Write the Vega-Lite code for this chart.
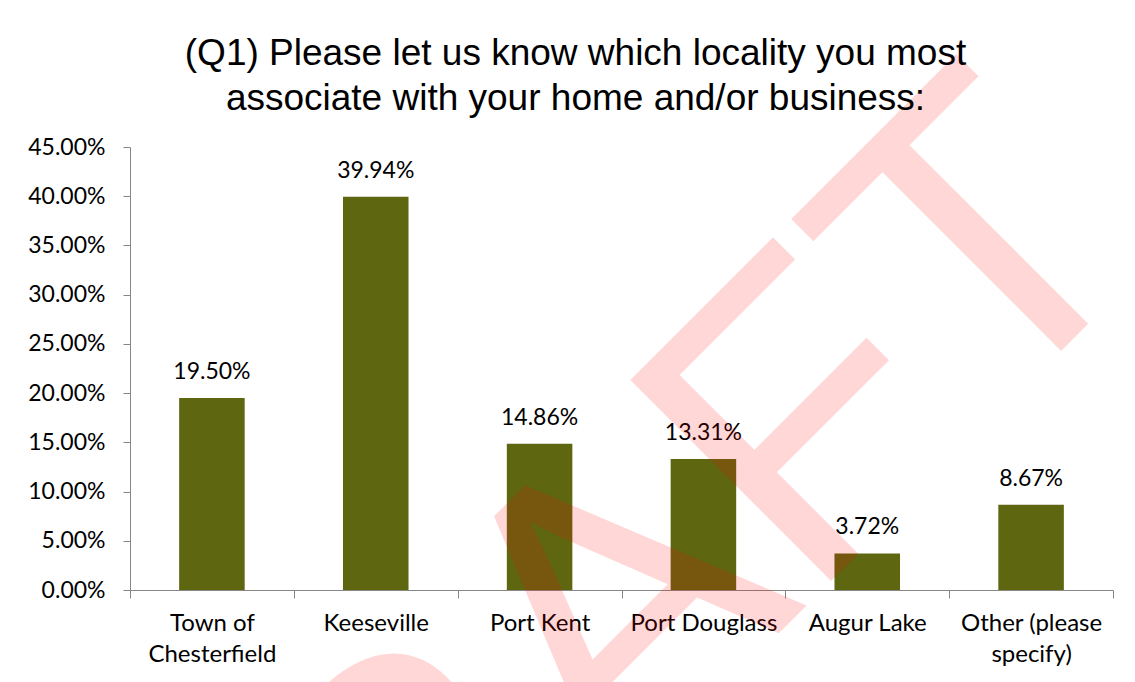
{
  "$schema": "https://vega.github.io/schema/vega-lite/v6.json",
  "width": 983,
  "height": 443,
  "autosize": "none",
  "padding": {"left": 130, "top": 147, "right": 22, "bottom": 92},
  "background": "white",
  "title": {
    "text": ["(Q1) Please let us know which locality you most", "associate with your home and/or business:"],
    "font": "Liberation Sans",
    "fontSize": 37,
    "fontWeight": "normal",
    "color": "#000000",
    "lineHeight": 45,
    "anchor": "middle",
    "offset": -103,
    "dx": -46
  },
  "config": {"view": {"stroke": null}, "font": "Lato"},
  "data": {
    "values": [
      {"locality": "Town of Chesterfield", "pct": 0.195},
      {"locality": "Keeseville", "pct": 0.3994},
      {"locality": "Port Kent", "pct": 0.1486},
      {"locality": "Port Douglass", "pct": 0.1331},
      {"locality": "Augur Lake", "pct": 0.0372},
      {"locality": "Other (please specify)", "pct": 0.0867}
    ]
  },
  "encoding": {
    "x": {
      "field": "locality",
      "type": "nominal",
      "sort": null,
      "scale": {"paddingInner": 0, "paddingOuter": 0},
      "axis": {
        "title": null,
        "labelAngle": 0,
        "labelFont": "Lato",
        "labelFontSize": 24,
        "labelColor": "#000000",
        "labelLineHeight": 31,
        "labelPadding": 13,
        "labelBaseline": "top",
        "domainColor": "#868686",
        "tickColor": "#868686",
        "tickSize": 8,
        "tickBand": "extent",
        "labelExpr": "datum.label == 'Town of Chesterfield' ? ['Town of', 'Chesterfield'] : datum.label == 'Other (please specify)' ? ['Other (please', 'specify)'] : datum.label"
      }
    },
    "y": {
      "field": "pct",
      "type": "quantitative",
      "scale": {"domain": [0, 0.45], "nice": false},
      "axis": {
        "title": null,
        "values": [0, 0.05, 0.1, 0.15, 0.2, 0.25, 0.3, 0.35, 0.4, 0.45],
        "format": ".2%",
        "grid": false,
        "labelFont": "Lato",
        "labelFontSize": 23,
        "labelColor": "#000000",
        "labelPadding": 18,
        "domainColor": "#868686",
        "tickColor": "#868686",
        "tickSize": 7
      }
    }
  },
  "layer": [
    {
      "mark": {"type": "bar", "color": "#5E6610", "width": {"band": 0.4}}
    },
    {
      "mark": {"type": "text", "baseline": "alphabetic", "dy": -19, "font": "Lato", "fontSize": 23, "color": "#000000"},
      "encoding": {"text": {"field": "pct", "type": "quantitative", "format": ".2%"}}
    },
    {
      "data": {"values": [{"label": "DRAFT", "locality": "Port Douglass", "pct": -0.1205}]},
      "mark": {
        "type": "text",
        "angle": 315,
        "align": "center",
        "baseline": "alphabetic",
        "dx": -37,
        "font": "Liberation Sans",
        "fontSize": 413,
        "fill": "#ff0000",
        "fillOpacity": 0.155
      },
      "encoding": {
        "text": {"field": "label", "type": "nominal"}
      }
    }
  ]
}
